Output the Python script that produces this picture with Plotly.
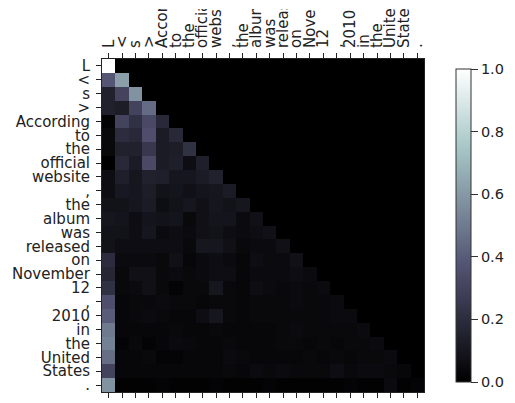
import plotly.graph_objects as go

tokens = ["L", "<", "s", ">", "According", "to", "the", "official", "website", ",",
          "the", "album", "was", "released", "on", "November", "12", ",", "2010",
          "in", "the", "United", "States", "."]

w00 = [1.0]
w01 = [0.38, 0.62]
w02 = [0.15, 0.30, 0.58]
w03 = [0.15, 0.13, 0.30, 0.45]
w04 = [0.02, 0.30, 0.22, 0.33, 0.18]
w05 = [0.04, 0.20, 0.18, 0.35, 0.12, 0.18]
w06 = [0.04, 0.15, 0.15, 0.25, 0.12, 0.13, 0.22]
w07 = [0.00, 0.18, 0.12, 0.33, 0.12, 0.14, 0.06, 0.14]
w08 = [0.06, 0.14, 0.10, 0.15, 0.14, 0.10, 0.10, 0.12, 0.15]
w09 = [0.06, 0.11, 0.10, 0.13, 0.08, 0.09, 0.07, 0.09, 0.10, 0.12]
w10 = [0.08, 0.08, 0.10, 0.12, 0.06, 0.08, 0.10, 0.07, 0.10, 0.08, 0.10]
w11 = [0.10, 0.09, 0.06, 0.09, 0.08, 0.09, 0.04, 0.07, 0.09, 0.09, 0.05, 0.07]
w12 = [0.08, 0.08, 0.06, 0.10, 0.05, 0.06, 0.05, 0.07, 0.08, 0.06, 0.05, 0.06, 0.07]
w13 = [0.08, 0.06, 0.06, 0.06, 0.06, 0.06, 0.04, 0.10, 0.10, 0.07, 0.04, 0.05, 0.05, 0.07]
w14 = [0.20, 0.05, 0.05, 0.05, 0.04, 0.07, 0.03, 0.05, 0.06, 0.05, 0.03, 0.06, 0.05, 0.05, 0.07]
w15 = [0.17, 0.04, 0.07, 0.07, 0.04, 0.05, 0.04, 0.05, 0.06, 0.06, 0.03, 0.05, 0.05, 0.05, 0.06, 0.05]
w16 = [0.22, 0.04, 0.05, 0.07, 0.04, 0.02, 0.04, 0.04, 0.10, 0.04, 0.03, 0.06, 0.05, 0.04, 0.05, 0.04, 0.05]
w17 = [0.35, 0.03, 0.04, 0.04, 0.05, 0.04, 0.04, 0.03, 0.04, 0.04, 0.03, 0.04, 0.04, 0.04, 0.05, 0.04, 0.04, 0.05]
w18 = [0.40, 0.03, 0.04, 0.05, 0.04, 0.03, 0.03, 0.06, 0.10, 0.04, 0.03, 0.04, 0.04, 0.04, 0.04, 0.04, 0.04, 0.05, 0.05]
w19 = [0.50, 0.03, 0.03, 0.03, 0.03, 0.04, 0.03, 0.03, 0.04, 0.03, 0.03, 0.03, 0.03, 0.04, 0.05, 0.04, 0.04, 0.04, 0.04, 0.05]
w20 = [0.52, 0.02, 0.04, 0.02, 0.03, 0.05, 0.04, 0.03, 0.03, 0.04, 0.03, 0.03, 0.03, 0.04, 0.04, 0.03, 0.04, 0.03, 0.04, 0.04, 0.05]
w21 = [0.46, 0.03, 0.03, 0.04, 0.02, 0.02, 0.03, 0.03, 0.03, 0.05, 0.04, 0.03, 0.03, 0.03, 0.03, 0.04, 0.03, 0.04, 0.03, 0.04, 0.04, 0.05]
w22 = [0.30, 0.03, 0.03, 0.03, 0.03, 0.03, 0.03, 0.03, 0.03, 0.04, 0.03, 0.05, 0.04, 0.05, 0.04, 0.04, 0.04, 0.06, 0.04, 0.05, 0.05, 0.04, 0.03]
w23 = [0.58, 0.01, 0.01, 0.01, 0.02, 0.01, 0.01, 0.01, 0.02, 0.01, 0.01, 0.01, 0.02, 0.01, 0.01, 0.01, 0.01, 0.01, 0.02, 0.01, 0.01, 0.05, 0.01, 0.02]

cbar_ticks = [0.0, 0.2, 0.4, 0.6, 0.8, 1.0]
cbar_ticktext = ["0.0", "0.2", "0.4", "0.6", "0.8", "1.0"]

rows = [w00, w01, w02, w03, w04, w05, w06, w07, w08, w09, w10, w11,
        w12, w13, w14, w15, w16, w17, w18, w19, w20, w21, w22, w23]
n = len(tokens)
z = [r + [0.0] * (n - len(r)) for r in rows]
idx = list(range(n))

# matplotlib "bone" colormap
bone = [
    [0.0, "rgb(0,0,0)"],
    [0.365079, "rgb(81,81,113)"],
    [0.746032, "rgb(166,198,198)"],
    [1.0, "rgb(255,255,255)"],
]

FONT = "DejaVu Sans"
fs = 15
txt = "#222222"

fig = go.Figure(go.Heatmap(
    z=z, x=idx, y=idx, zmin=0, zmax=1, colorscale=bone, hoverinfo="skip",
    colorbar=dict(
        x=1.098, xanchor="left", xpad=0, y=0.5, yanchor="middle", len=1.0,
        thickness=15, outlinewidth=1, outlinecolor="#333333",
        tickvals=cbar_ticks, ticktext=cbar_ticktext, ticks="outside",
        ticklen=7, tickcolor="#333333",
        tickfont=dict(family=FONT, size=14.5, color=txt),
    ),
))

fig.update_layout(
    width=515, height=403, template="none",
    margin=dict(l=102, r=79, t=59, b=11),
    paper_bgcolor="white", plot_bgcolor="white",
    font=dict(family=FONT, size=fs, color=txt),
    # the reference image is cropped a few pixels above the top labels
    shapes=[dict(type="rect", xref="paper", yref="paper", layer="above",
                 x0=-0.35, x1=1.05, y0=1.150, y1=1.3,
                 fillcolor="white", line=dict(width=0))],
)
fig.update_xaxes(
    side="top", tickvals=idx, ticktext=tokens, tickangle=-90,
    range=[-0.5, n - 0.5], ticks="outside", ticklen=5, tickcolor="#222",
    ticklabelstandoff=2,
    showline=True, linecolor="#222", linewidth=1, mirror="ticks",
    showgrid=False, zeroline=False, automargin=False,
    tickfont=dict(family=FONT, size=fs, color=txt),
)
fig.update_yaxes(
    tickvals=idx, ticktext=tokens, range=[n - 0.5, -0.5],
    ticks="outside", ticklen=5, tickcolor="#222", ticklabelposition="outside",
    ticklabelstandoff=3,
    showline=True, linecolor="#222", linewidth=1, mirror=True,
    showgrid=False, zeroline=False, automargin=False,
    tickfont=dict(family=FONT, size=fs, color=txt),
)

fig.write_html("out.html", config={"displayModeBar": False},
               post_script="document.body.style.margin='0';document.body.style.overflow='hidden';")
